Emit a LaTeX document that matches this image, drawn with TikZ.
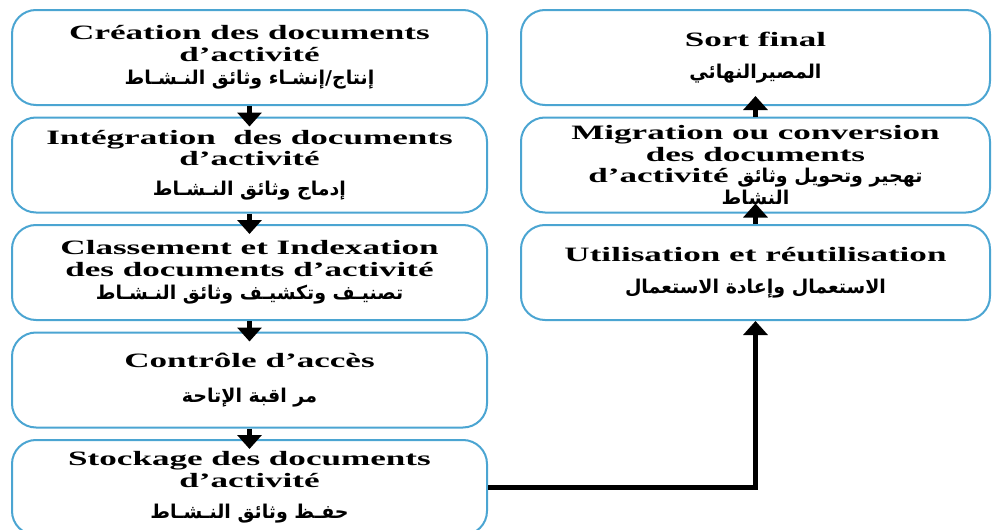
\documentclass[tikz,border=0pt]{standalone}
\usepackage{fontspec}
\usepackage{xcolor}
\usetikzlibrary{positioning,arrows.meta}
\TeXXeTstate=1
\newfontfamily\frenchfont[FakeStretch=1.72]{Liberation Serif}
\newfontfamily\arabicfont[Script=Arabic]{DejaVu Sans}
\definecolor{boxblue}{RGB}{75,165,210}
\newcommand{\arline}[1]{{\arabicfont\fontsize{9.5}{11}\selectfont\beginR #1\endR}}

\begin{document}
\begin{tikzpicture}[
        node distance = 53.75pt,
        box/.style = {draw=boxblue, line width=1pt, rounded corners=12pt,
            align=center, minimum width=237.5pt, minimum height=47.5pt, inner sep=0pt,
            font=\frenchfont\bfseries\fontsize{10.2}{10.8}\selectfont},
        rbox/.style = {box, minimum width=234.5pt},
        flow/.style = {line width=2.5pt, -{Triangle[width=12pt,length=7pt]}, shorten >=-5pt}]

        \useasboundingbox (0,0) rectangle (496.5pt,-265pt);
        \clip (0,0) rectangle (496.5pt,-265pt);

        % NODES
        % left column
        \node[box] (creation) at (124.75pt,-28.75pt) {Création des documents\\ d’activité\\[1pt] \arline{إنتاج/إنشـاء وثائق النـشـاط}};
        \node[box, below of = creation] (integration) {Intégration\ \ des documents\\ d’activité\\[4pt] \arline{إدماج وثائق النـشـاط}};
        \node[box, below of = integration] (classement) {Classement et Indexation\\ des documents d’activité\\[1pt] \arline{تصنيـف وتكشيـف وثائق النـشـاط}};
        \node[box, below of = classement] (controle) {Contrôle d’accès\\[7pt] \arline{مر اقبة الإتاحة}};
        \node[box, below of = controle] (stockage) {Stockage des documents\\ d’activité\\[5pt] \arline{حفـظ وثائق النـشـاط}};

        % right column
        \node[rbox, right of = creation, node distance = 253pt] (sort) {Sort final\\[5pt] \arline{المصيرالنهائي}};
        \node[rbox, below of = sort] (migration) {Migration ou conversion\\ des documents\\ d’activité \arline{تهجير وتحويل وثائق}\\ \arline{النشاط}};
        \node[rbox, below of = migration] (utilisation) {Utilisation et réutilisation\\[5pt] \arline{الاستعمال وإعادة الاستعمال}};

        % ARROWS
        \draw[flow] (creation)--(integration);
        \draw[flow] (integration)--(classement);
        \draw[flow] (classement)--(controle);
        \draw[flow] (controle)--(stockage);
        \draw[flow, shorten >=0pt] (stockage.east) -| (utilisation.south);
        \draw[flow] (utilisation)--(migration);
        \draw[flow] (migration)--(sort);
\end{tikzpicture}
\end{document}
